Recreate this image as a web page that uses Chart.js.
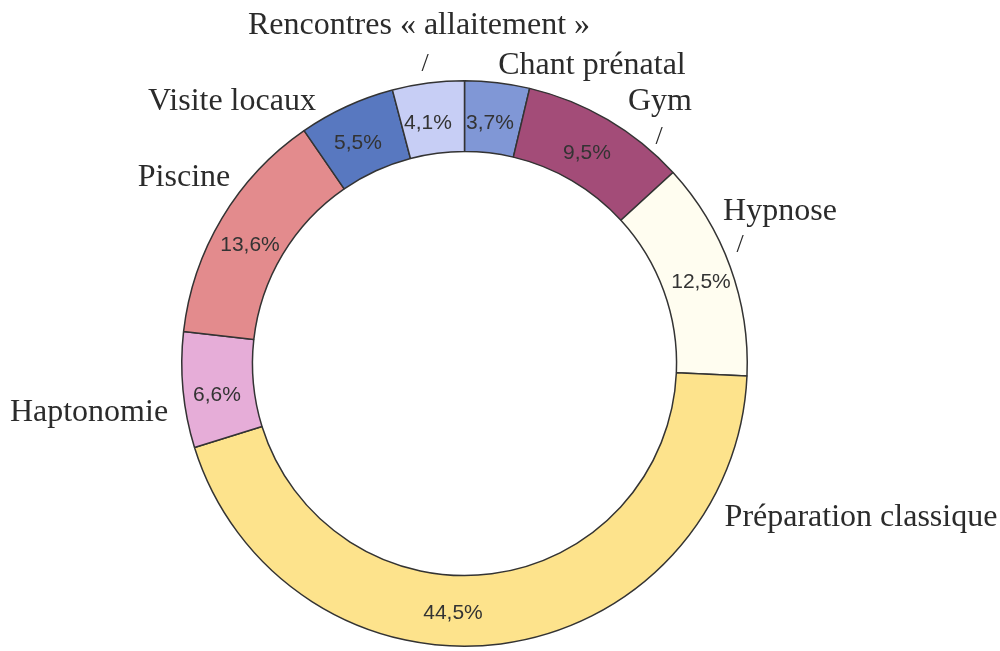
<!DOCTYPE html>
<html>
<head>
<meta charset="utf-8">
<script src="https://cdn.jsdelivr.net/npm/chart.js@4"></script>
<style>
  html, body { margin: 0; padding: 0; background: #fff; }
  #wrap { width: 1000px; height: 651px; position: relative; }
</style>
</head>
<body>
<div id="wrap"><canvas id="chart" width="1000" height="651"></canvas></div>
<script>
// categories, clockwise from 12 o'clock
const categories = [
    'Chant prénatal', 'Gym', 'Hypnose', 'Préparation classique',
    'Haptonomie', 'Piscine', 'Visite locaux', 'Rencontres « allaitement »'
];
const shares = [3.7, 9.5, 12.5, 44.5, 6.6, 13.6, 5.5, 4.1];
const sliceColors = [
    '#8097d6', '#a34c78', '#fffdf0', '#fde38c',
    '#e6add8', '#e38b8d', '#5878c0', '#c7cef5'
];

// where the category names and the percentages are written (x, y = text centre)
const nameSpots = [
    { x: 592, y: 66 },   // Chant prénatal
    { x: 660, y: 102 },  // Gym
    { x: 780, y: 212 },  // Hypnose
    { x: 861, y: 518 },  // Préparation classique
    { x: 89,  y: 413 },  // Haptonomie
    { x: 184, y: 178 },  // Piscine
    { x: 232, y: 102 },  // Visite locaux
    { x: 419, y: 26 }    // Rencontres
];
const slashSpots = [
    { x: 425, y: 64 },
    { x: 659, y: 137 },
    { x: 740, y: 245 }
];
const valueSpots = [
    { x: 490, y: 123 },
    { x: 587, y: 153 },
    { x: 701, y: 282 },
    { x: 453, y: 613 },
    { x: 217, y: 395 },
    { x: 250, y: 245 },
    { x: 358, y: 143 },
    { x: 428, y: 123 }
];

const labelPlugin = {
    id: 'labelPlugin',
    afterDraw(chart) {
        const ctx = chart.ctx;
        ctx.save();
        ctx.textAlign = 'center';
        ctx.textBaseline = 'middle';

        // names, serif
        ctx.fillStyle = '#2b2b2b';
        ctx.font = '32px "Liberation Serif", "Times New Roman", serif';
        categories.forEach((name, i) => {
            ctx.fillText(name, nameSpots[i].x, nameSpots[i].y);
        });
        ctx.font = '26px "Liberation Serif", serif';
        slashSpots.forEach(p => ctx.fillText('/', p.x, p.y));

        // percentages inside the ring
        ctx.fillStyle = '#333';
        ctx.font = '21px "Liberation Sans", Arial, sans-serif';
        shares.forEach((v, i) => {
            const txt = v.toFixed(1).replace('.', ',') + '%';
            ctx.fillText(txt, valueSpots[i].x, valueSpots[i].y);
        });
        ctx.restore();
    }
};

new Chart(document.getElementById('chart'), {
    type: 'doughnut',
    data: {
        labels: categories,
        datasets: [{
            data: shares,
            backgroundColor: sliceColors,
            borderColor: '#333',
            borderWidth: 1.5,
            borderAlign: 'center'
        }]
    },
    options: {
        responsive: false,
        animation: false,
        cutout: '75%',
        layout: {
            padding: { top: 80, left: 180, right: 251, bottom: 4 }
        },
        plugins: {
            legend: { display: false },
            tooltip: { enabled: false }
        }
    },
    plugins: [labelPlugin]
});
</script>
</body>
</html>
